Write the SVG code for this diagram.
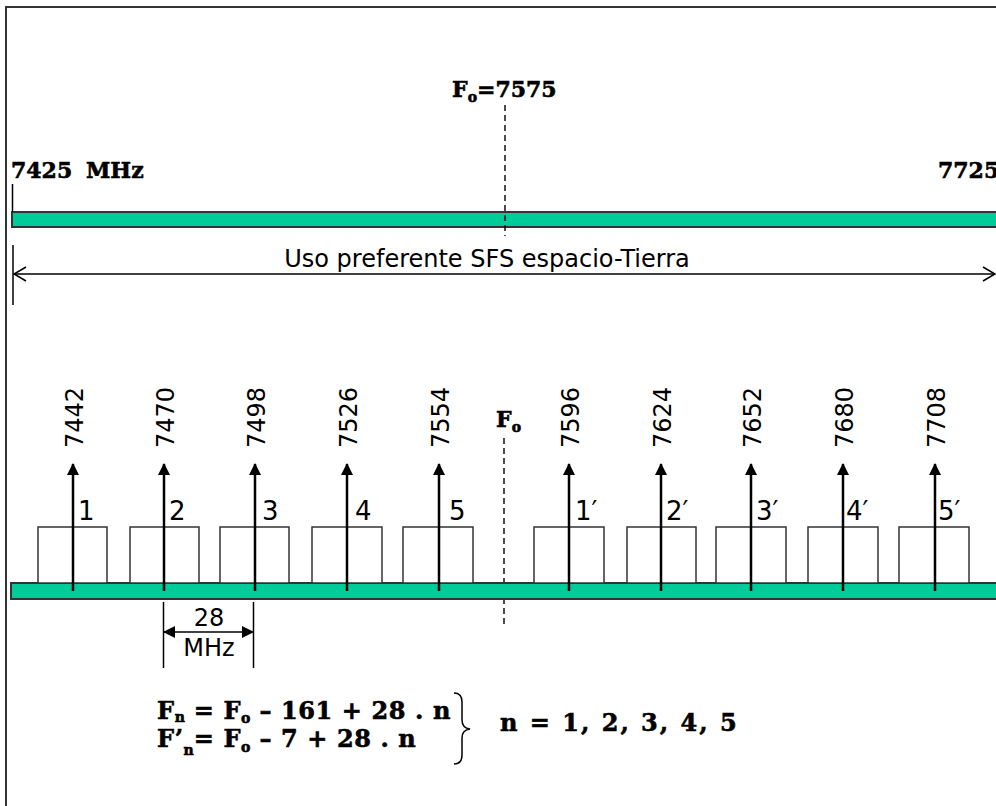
<svg xmlns="http://www.w3.org/2000/svg" width="996" height="806" viewBox="0 0 996 806">
<style>
.band{fill:#00CC99;stroke:#333;stroke-width:2}
.box{fill:#fff;stroke:#333;stroke-width:1.5}
.ln{stroke:#000;stroke-width:1.5;fill:none}
.arr{stroke:#000;stroke-width:2.5;fill:none}
.dash{stroke:#000;stroke-width:1.4;stroke-dasharray:6 4;fill:none}
.sans{font-family:"DejaVu Sans",Verdana,sans-serif;font-size:24px;fill:#000}
.num{font-size:26px}
.bold{font-family:"DejaVu Serif","Liberation Serif",serif;font-weight:bold;font-size:22px;fill:#000;stroke:#000;stroke-width:0.6}
.big{font-size:24px;letter-spacing:0.6px}
.sub{font-size:14px;letter-spacing:0}
</style>
<defs>
<marker id="tri" viewBox="0 0 12 12" refX="11" refY="6" markerWidth="12" markerHeight="12" markerUnits="userSpaceOnUse" orient="auto">
<path d="M0,0 L12,6 L0,12 Z" fill="#000"/>
</marker>
<marker id="open" viewBox="0 0 14 16" refX="13" refY="8" markerWidth="14" markerHeight="16" markerUnits="userSpaceOnUse" orient="auto-start-reverse">
<path d="M1,1 L13,8 L1,15" fill="none" stroke="#000" stroke-width="1.5"/>
</marker>
</defs>
<rect width="996" height="806" fill="#fff"/>
<path d="M6,806 V7 H996" fill="none" stroke="#333" stroke-width="2"/>

<g id="top-band">
<rect class="band" x="12" y="212" width="990" height="15"/>
<line class="ln" x1="12.5" y1="184" x2="12.5" y2="212"/>
<text class="bold" x="11" y="178">7425</text>
<text class="bold" x="86" y="178">MHz</text>
<text class="bold" x="938" y="178">7725</text>
<text class="bold" x="452" y="97">F<tspan class="sub" dy="5">o</tspan><tspan dy="-5">=7575</tspan></text>
</g>

<g id="span-arrow">
<line class="ln" x1="13" y1="245" x2="13" y2="305"/>
<line class="ln" x1="14" y1="274" x2="995" y2="274" marker-start="url(#open)" marker-end="url(#open)"/>
<text class="sans" x="487" y="267" text-anchor="middle">Uso preferente SFS espacio-Tierra</text>
</g>

<g id="center-line">
<line class="dash" x1="505" y1="105" x2="505" y2="236"/>
<line class="dash" x1="504" y1="438" x2="504" y2="628"/>
<text class="bold" x="496" y="427">F<tspan class="sub" dy="5">o</tspan></text>
</g>

<g id="bottom-band">
<rect class="band" x="11" y="583" width="990" height="16"/>
</g>

<g id="channels">
<rect class="box" x="38" y="527" width="69" height="56"/>
<rect class="box" x="130" y="527" width="69" height="56"/>
<rect class="box" x="220" y="527" width="69" height="56"/>
<rect class="box" x="312" y="527" width="70" height="56"/>
<rect class="box" x="403" y="527" width="70" height="56"/>
<rect class="box" x="534" y="527" width="70" height="56"/>
<rect class="box" x="627" y="527" width="69" height="56"/>
<rect class="box" x="716" y="527" width="70" height="56"/>
<rect class="box" x="808" y="527" width="70" height="56"/>
<rect class="box" x="899" y="527" width="70" height="56"/>
</g>

<g id="connectors">
<line class="arr" x1="73" y1="591" x2="73" y2="464" marker-end="url(#tri)"/>
<line class="arr" x1="164" y1="591" x2="164" y2="464" marker-end="url(#tri)"/>
<line class="arr" x1="255" y1="591" x2="255" y2="464" marker-end="url(#tri)"/>
<line class="arr" x1="347" y1="591" x2="347" y2="464" marker-end="url(#tri)"/>
<line class="arr" x1="439" y1="591" x2="439" y2="464" marker-end="url(#tri)"/>
<line class="arr" x1="569" y1="591" x2="569" y2="464" marker-end="url(#tri)"/>
<line class="arr" x1="661" y1="591" x2="661" y2="464" marker-end="url(#tri)"/>
<line class="arr" x1="751" y1="591" x2="751" y2="464" marker-end="url(#tri)"/>
<line class="arr" x1="843" y1="591" x2="843" y2="464" marker-end="url(#tri)"/>
<line class="arr" x1="935" y1="591" x2="935" y2="464" marker-end="url(#tri)"/>
</g>

<g id="freq-labels" class="sans">
<text transform="translate(83,448) rotate(-90)">7442</text>
<text transform="translate(174,448) rotate(-90)">7470</text>
<text transform="translate(265,448) rotate(-90)">7498</text>
<text transform="translate(357,448) rotate(-90)">7526</text>
<text transform="translate(449,448) rotate(-90)">7554</text>
<text transform="translate(579,448) rotate(-90)">7596</text>
<text transform="translate(671,448) rotate(-90)">7624</text>
<text transform="translate(761,448) rotate(-90)">7652</text>
<text transform="translate(853,448) rotate(-90)">7680</text>
<text transform="translate(945,448) rotate(-90)">7708</text>
</g>

<g id="channel-numbers" class="sans num">
<text x="78" y="520">1</text>
<text x="169" y="520">2</text>
<text x="262" y="520">3</text>
<text x="355" y="520">4</text>
<text x="449" y="520">5</text>
<text x="575" y="520">1′</text>
<text x="666" y="520">2′</text>
<text x="756" y="520">3′</text>
<text x="846" y="520">4′</text>
<text x="938" y="520">5′</text>
</g>

<g id="spacing">
<line class="ln" x1="163.5" y1="602" x2="163.5" y2="668"/>
<line class="ln" x1="253.5" y1="602" x2="253.5" y2="668"/>
<line class="ln" x1="208" y1="632" x2="164" y2="632" marker-end="url(#tri)"/>
<line class="ln" x1="208" y1="632" x2="253" y2="632" marker-end="url(#tri)"/>
<text class="sans" x="209" y="626" text-anchor="middle">28</text>
<text class="sans" x="209" y="656" text-anchor="middle">MHz</text>
</g>

<g id="formula">
<text class="bold big" x="157" y="719">F<tspan class="sub" dy="3">n</tspan><tspan dy="-3"> = F</tspan><tspan class="sub" dy="4">o</tspan><tspan dy="-4"> – 161 + 28 . n</tspan></text>
<text class="bold big" x="157" y="747">F’<tspan class="sub" dy="8">n</tspan><tspan dy="-8">= F</tspan><tspan class="sub" dy="5">o</tspan><tspan dy="-5"> – 7 + 28 . n</tspan></text>
<path d="M454,693 Q462,693 462,702 V720 Q462,728 470,729 Q462,730 462,738 V755 Q462,764 454,764" fill="none" stroke="#000" stroke-width="1.5"/>
<text class="bold big" x="500" y="731" style="letter-spacing:2px">n = 1, 2, 3, 4, 5</text>
</g>
</svg>
